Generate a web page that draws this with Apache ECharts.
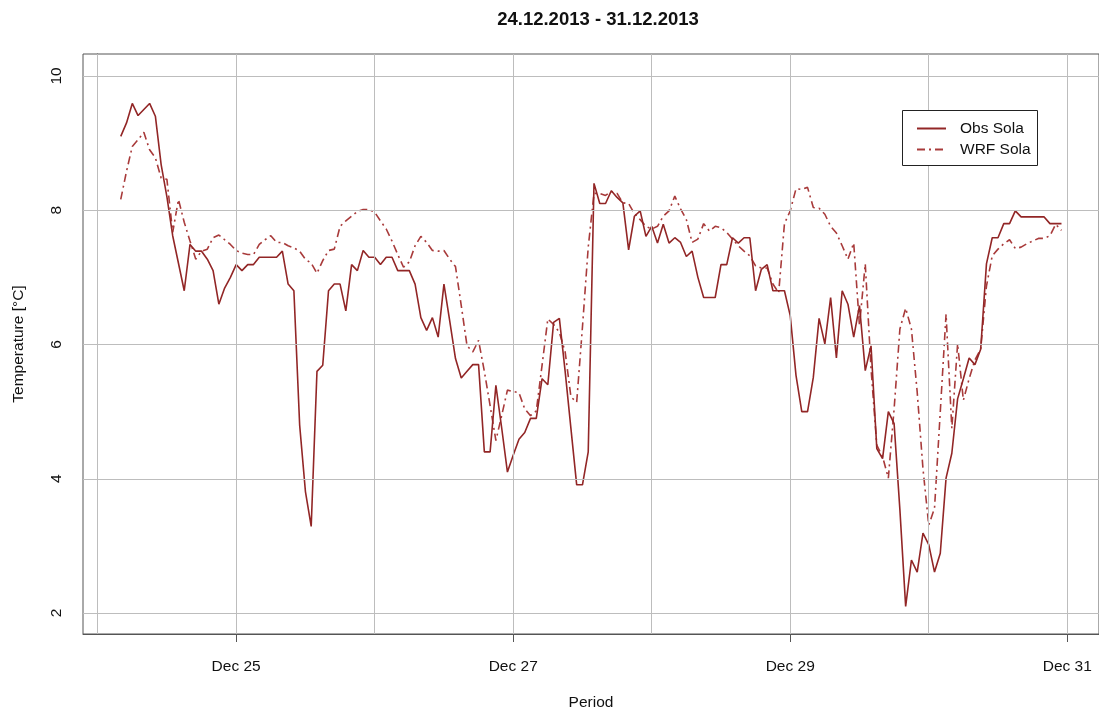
<!DOCTYPE html>
<html>
<head>
<meta charset="utf-8">
<script src="https://cdn.jsdelivr.net/npm/echarts@6/dist/echarts.min.js"></script>
<style>
html,body{margin:0;padding:0;background:#fff;}
#chart{width:1099px;height:716px;}
</style>
</head>
<body>
<div id="chart"></div>
<script>
// Hours since 24.12.2013 00:00 of the first value (hourly data)
var startHour = 4;
var obsSola = [
9.10,9.30,9.59,9.41,9.50,9.59,9.40,8.68,8.20,7.62,7.21,6.80,7.49,7.39,7.39,7.27,7.10,6.60,6.84,7.00,
7.19,7.10,7.19,7.19,7.30,7.30,7.30,7.30,7.39,6.90,6.80,4.80,3.81,3.29,5.60,5.69,6.80,6.90,6.90,6.50,
7.19,7.10,7.40,7.30,7.30,7.19,7.30,7.30,7.10,7.10,7.10,6.90,6.40,6.21,6.40,6.11,6.90,6.35,5.79,5.50,
5.60,5.70,5.70,4.40,4.40,5.39,4.76,4.10,4.35,4.59,4.69,4.90,4.90,5.49,5.40,6.33,6.39,5.60,4.75,3.91,
3.91,4.40,8.40,8.10,8.10,8.29,8.19,8.11,7.41,7.91,7.99,7.61,7.76,7.51,7.79,7.51,7.59,7.52,7.31,7.39,
7.00,6.70,6.70,6.70,7.19,7.19,7.59,7.51,7.59,7.59,6.80,7.12,7.19,6.80,6.80,6.80,6.43,5.54,5.00,5.00,
5.51,6.39,6.01,6.70,5.80,6.80,6.60,6.11,6.58,5.61,5.98,4.45,4.30,5.00,4.82,3.54,2.10,2.79,2.61,3.19,
3.02,2.61,2.89,4.01,4.38,5.19,5.49,5.80,5.70,5.93,7.20,7.59,7.59,7.80,7.80,7.99,7.90,7.90,7.90,7.90,
7.90,7.80,7.80,7.80
];
var wrfSola = [
8.16,8.58,8.95,9.05,9.16,8.90,8.78,8.48,8.46,7.67,8.16,7.82,7.54,7.27,7.39,7.42,7.59,7.63,7.56,7.49,
7.40,7.36,7.34,7.34,7.49,7.56,7.62,7.52,7.52,7.47,7.44,7.39,7.27,7.21,7.06,7.25,7.40,7.42,7.76,7.84,
7.91,7.98,8.01,8.01,7.97,7.84,7.72,7.54,7.34,7.15,7.23,7.47,7.61,7.52,7.40,7.39,7.40,7.27,7.16,6.58,
5.98,5.89,6.06,5.60,5.09,4.57,4.94,5.32,5.30,5.28,5.04,4.94,5.01,5.69,6.38,6.30,6.18,5.89,5.22,5.14,
6.26,7.45,8.25,8.25,8.22,8.28,8.25,8.11,8.10,7.95,7.86,7.76,7.72,7.76,7.91,7.99,8.21,8.02,7.86,7.52,
7.57,7.80,7.69,7.76,7.74,7.67,7.57,7.47,7.39,7.32,7.17,7.14,7.14,6.90,6.77,7.80,7.99,8.32,8.31,8.34,
8.04,8.03,7.94,7.76,7.66,7.47,7.27,7.51,6.28,7.20,5.64,4.50,4.33,4.01,5.04,6.23,6.54,6.23,5.29,4.15,
3.31,3.56,5.00,6.45,4.75,6.01,5.17,5.49,5.77,5.93,6.87,7.32,7.42,7.50,7.56,7.43,7.45,7.50,7.54,7.58,
7.58,7.62,7.79,7.70
];
var xTickHours = [24, 72, 120, 168];
var xTickLabels = ['Dec 25', 'Dec 27', 'Dec 29', 'Dec 31'];
var xGridHours = [0, 24, 48, 72, 96, 120, 144, 168];
var yTicks = [2, 4, 6, 8, 10];
var seriesNames = ['Obs Sola', 'WRF Sola'];
var titleText = '24.12.2013 - 31.12.2013';

function toPairs(arr) {
  return arr.map(function (v, i) { return [startHour + i, v]; });
}

var font = 'Liberation Sans, Arial, Helvetica, sans-serif';
var chart = echarts.init(document.getElementById('chart'), null, {renderer: 'canvas'});

var gridMarks = xGridHours.map(function (h) { return {xAxis: h}; })
  .concat(yTicks.map(function (v) { return {yAxis: v}; }));

chart.setOption({
  animation: false,
  backgroundColor: '#ffffff',
  title: {
    text: titleText,
    left: 593, top: 5, textAlign: 'center',
    textStyle: {fontFamily: font, fontSize: 18.5, fontWeight: 'bold', color: '#111'}
  },
  graphic: [{
    type: 'rect', z: 100,
    shape: {x: 902.5, y: 110.5, width: 135, height: 55},
    style: {fill: '#fff', stroke: '#222', lineWidth: 1}
  }],
  legend: {
    data: seriesNames,
    orient: 'vertical',
    left: 916, top: 120.5,
    padding: 0,
    itemWidth: 29, itemHeight: 14, itemGap: 5,
    z: 101,
    itemStyle: {opacity: 0},
    textStyle: {fontFamily: font, fontSize: 15.5, color: '#111', padding: [0, 0, 0, 9]}
  },
  grid: {
    left: 83, top: 54, width: 1019, height: 582,
    show: true, borderColor: '#555', borderWidth: 1, backgroundColor: 'transparent'
  },
  xAxis: {
    type: 'value',
    min: -2.54, max: 173.5,
    name: 'Period', nameLocation: 'middle', nameGap: 61,
    nameTextStyle: {fontFamily: font, fontSize: 15.5, color: '#111'},
    axisLine: {show: true, lineStyle: {color: '#555', width: 1}},
    axisTick: {show: true, customValues: xTickHours, length: 8, lineStyle: {color: '#555'}},
    axisLabel: {
      customValues: xTickHours, margin: 25,
      fontFamily: font, fontSize: 15.5, color: '#111',
      formatter: function (v) {
        var i = xTickHours.indexOf(v);
        return i >= 0 ? xTickLabels[i] : '';
      }
    },
    splitLine: {show: false}
  },
  yAxis: {
    type: 'value',
    min: 1.688, max: 10.3265,
    name: 'Temperature [°C]', nameLocation: 'middle', nameGap: 56,
    nameTextStyle: {fontFamily: font, fontSize: 15.5, color: '#111'},
    axisLine: {show: true, lineStyle: {color: '#555', width: 1}},
    axisTick: {show: true, customValues: yTicks, length: 9, lineStyle: {color: '#555'}},
    axisLabel: {
      customValues: yTicks, rotate: 90, margin: 18,
      fontFamily: font, fontSize: 15.5, color: '#111'
    },
    splitLine: {show: false}
  },
  series: [
    {
      name: 'grid', type: 'line', data: [], silent: true, z: 1,
      markLine: {
        silent: true, symbol: ['none', 'none'], label: {show: false},
        lineStyle: {color: '#bdbdbd', type: 'solid', width: 1},
        emphasis: {disabled: true},
        data: gridMarks
      }
    },
    {
      name: seriesNames[0], type: 'line', data: toPairs(obsSola),
      symbol: 'none', showSymbol: false, z: 3,
      lineStyle: {color: '#922626', width: 1.6, type: 'solid'},
      itemStyle: {color: '#922626'}
    },
    {
      name: seriesNames[1], type: 'line', data: toPairs(wrfSola),
      symbol: 'none', showSymbol: false, z: 2,
      lineStyle: {color: '#a83a3a', width: 1.6, type: [8, 4, 2, 4]},
      itemStyle: {color: '#a83a3a'}
    }
  ]
});
</script>
</body>
</html>
